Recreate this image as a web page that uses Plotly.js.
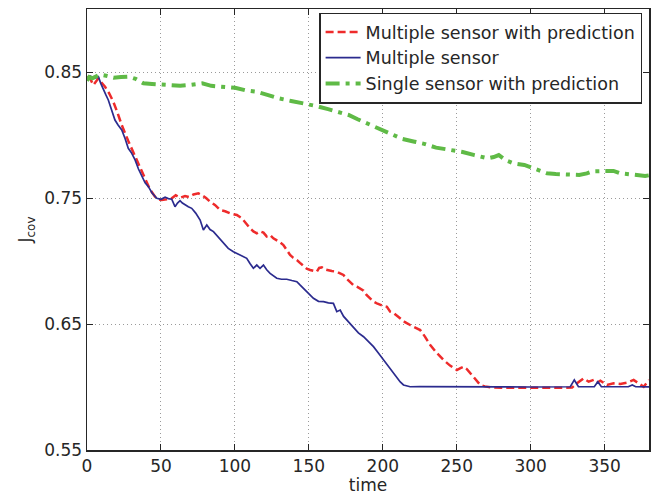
<!DOCTYPE html>
<html>
<head>
<meta charset="utf-8">
<script src="https://cdn.plot.ly/plotly-3.0.1.min.js"></script>
<style>html,body{margin:0;padding:0;background:#fff;}#chart{width:659px;height:495px;}</style>
</head>
<body>
<div id="chart"></div>
<script>
// Series names
const seriesNames = ["Multiple sensor with prediction", "Multiple sensor", "Single sensor with prediction"];

// Multiple sensor with prediction (red dashed)
const redT = [0, 2, 4.3, 7.7, 9.5, 12.2, 15, 17.8, 20.5, 23.5,
  28, 32.5, 36, 39.2, 42.5, 46, 48, 50.5, 54, 57.3,
  60, 63, 66.3, 69, 72, 75.3, 78, 80.5, 83.2, 86.5,
  90, 93.4, 96.8, 101.3, 104.7, 107.5, 110.3, 112.5, 114.8, 117,
  119.3, 121.5, 123.8, 126, 128.3, 130.5, 132.8, 135, 137.3, 139.5,
  141.9, 144, 146.4, 148.5, 150.9, 153, 155.4, 157, 158.8, 160.5,
  162.2, 165.5, 168.9, 171.2, 173.4, 175.5, 177.9, 180, 182.5, 185,
  187, 189, 191.5, 193.7, 196, 198.5, 200.5, 202.8, 205, 207,
  209.5, 212, 215, 218.5, 222, 225.3, 228.5, 232.1, 236.5, 241.1,
  245.5, 250.1, 252.5, 254.6, 257, 259.1, 262.5, 265.9, 269, 272.7,
  280, 290, 300, 310, 320, 328, 331.3, 335.8, 339.2, 342.6,
  344.8, 347.1, 351.6, 356.1, 360.6, 365.2, 369.6, 373, 376.4, 380];
const redV = [0.846, 0.845, 0.8397, 0.845, 0.842, 0.8383, 0.833, 0.8264, 0.818, 0.8079,
  0.795, 0.7828, 0.773, 0.7656, 0.757, 0.751, 0.749, 0.7484, 0.7490, 0.7498,
  0.7522, 0.7502, 0.7516, 0.7508, 0.7528, 0.7537, 0.752, 0.750, 0.7471, 0.7445,
  0.7405, 0.7395, 0.7378, 0.7365, 0.7339, 0.7295, 0.7259, 0.7235, 0.722, 0.7235,
  0.7225, 0.7195, 0.7206, 0.718, 0.7167, 0.7148, 0.7127, 0.709, 0.7048, 0.7025,
  0.7008, 0.6985, 0.696, 0.6940, 0.6929, 0.692, 0.6915, 0.6945, 0.695, 0.6935,
  0.6929, 0.6920, 0.6915, 0.6902, 0.6889, 0.686, 0.6836, 0.681, 0.6796, 0.678,
  0.6765, 0.673, 0.6704, 0.6677, 0.6664, 0.665, 0.6643, 0.6637, 0.6598, 0.659,
  0.6565, 0.654, 0.6515, 0.6492, 0.647, 0.6452, 0.640, 0.6333, 0.627, 0.6214,
  0.617, 0.6135, 0.6150, 0.6161, 0.614, 0.6109, 0.606, 0.6016, 0.6005, 0.5998,
  0.5994, 0.5996, 0.5993, 0.5995, 0.5994, 0.5996, 0.6029, 0.6069, 0.6042, 0.6056,
  0.6034, 0.605, 0.6016, 0.6029, 0.6024, 0.6034, 0.6056, 0.6029, 0.6002, 0.6056];

// Multiple sensor (blue solid)
const blueT = [0, 2, 5.4, 7.7, 9.3, 11, 12.7, 14.4, 16.5, 18.9,
  21, 23.5, 25.8, 27.9, 30, 32.5, 34.8, 37, 39.3, 41.5,
  44, 47.2, 50, 52.8, 55, 57.3, 59.5, 61.2, 62.9, 64.5,
  66.3, 68.5, 70.8, 73.5, 76.5, 78.7, 81, 83.2, 85.5, 88.8,
  92.2, 95.5, 99, 101.2, 103.5, 105.7, 108, 110.2, 112.5, 114.8,
  117, 119.3, 121.5, 123.8, 126, 128.3, 131.5, 135.1, 138.5, 141.9,
  144, 146.3, 149.5, 153.1, 156.5, 159.9, 163.2, 166.6, 168.9, 171.2,
  173.5, 175.7, 177.9, 180.2, 183.5, 187, 190.3, 193.7, 197, 200.5,
  202.8, 205, 207.2, 209.5, 211.8, 214, 218.5, 225, 240, 260,
  280, 300, 320, 326.8, 329.5, 332.3, 343, 345.4, 347.8, 366,
  368.7, 371, 380];
const blueV = [0.845, 0.8468, 0.845, 0.8463, 0.841, 0.8357, 0.832, 0.8278, 0.820, 0.8119,
  0.808, 0.804, 0.797, 0.7894, 0.786, 0.7802, 0.773, 0.7669, 0.762, 0.759,
  0.754, 0.7498, 0.749, 0.7506, 0.7495, 0.749, 0.7431, 0.746, 0.7479, 0.746,
  0.7444, 0.743, 0.7418, 0.738, 0.7325, 0.7246, 0.7286, 0.725, 0.7233, 0.719,
  0.714, 0.710, 0.7074, 0.706, 0.7048, 0.7035, 0.7021, 0.698, 0.6942, 0.6968,
  0.6942, 0.6968, 0.693, 0.6902, 0.688, 0.6863, 0.6855, 0.6855, 0.6845, 0.6836,
  0.681, 0.6783, 0.674, 0.6704, 0.668, 0.6677, 0.6668, 0.6664, 0.6598, 0.6611,
  0.656, 0.653, 0.6506, 0.6466, 0.643, 0.6399, 0.636, 0.632, 0.627, 0.6214,
  0.618, 0.6148, 0.611, 0.6069, 0.604, 0.6016, 0.6002, 0.6003, 0.6001, 0.6001,
  0.6001, 0.6000, 0.6001, 0.6002, 0.6056, 0.6002, 0.6002, 0.6042, 0.6002, 0.6002,
  0.6016, 0.6002, 0.6001];

// Single sensor with prediction (green dash-dot)
const greenT = [0, 1.5, 3.6, 8.5, 13, 18, 23, 28.3, 33, 38.2,
  44, 50.6, 57, 63, 70, 77.9, 84, 92, 100.1, 107,
  114, 122.5, 130, 138, 147.2, 155, 163, 170, 176.9, 183,
  190, 197, 205, 213, 221.5, 228, 236, 246, 254, 262,
  271, 275, 278.4, 283, 288.5, 295.7, 303, 311, 317, 325,
  332.8, 338, 342, 350.2, 356, 360.6, 366, 372, 377.4, 380];
const greenV = [0.843, 0.846, 0.845, 0.848, 0.847, 0.8455, 0.846, 0.8463, 0.8445, 0.841,
  0.8405, 0.8402, 0.8395, 0.8391, 0.8398, 0.841, 0.839, 0.8385, 0.8375, 0.8355,
  0.8345, 0.8317, 0.829, 0.827, 0.8252, 0.823, 0.8205, 0.818, 0.8159, 0.8125,
  0.809, 0.8053, 0.8015, 0.797, 0.7947, 0.793, 0.790, 0.788, 0.7865, 0.784,
  0.7815, 0.7825, 0.7841, 0.780, 0.7775, 0.7762, 0.773, 0.7696, 0.769, 0.7685,
  0.7683, 0.7695, 0.7712, 0.7714, 0.7715, 0.7696, 0.769, 0.768, 0.7675, 0.768];

// Tick labels
const xTickVals = [0, 50, 100, 150, 200, 250, 300, 350];
const xTickText = ["0", "50", "100", "150", "200", "250", "300", "350"];
const yTickVals = [0.55, 0.65, 0.75, 0.85];
const yTickText = ["0.55", "0.65", "0.75", "0.85"];

const axisColor = '#262626';
const traces = [
  {x: redT, y: redV, name: seriesNames[0], type: 'scatter', mode: 'lines',
   line: {color: '#ee2b2b', width: 2.5, dash: '8px,4px'}},
  {x: blueT, y: blueV, name: seriesNames[1], type: 'scatter', mode: 'lines',
   line: {color: '#2b2b8e', width: 1.7}},
  {x: greenT, y: greenV, name: seriesNames[2], type: 'scatter', mode: 'lines',
   line: {color: '#5fba46', width: 4, dash: '14px,6px,4px,6px'}}
];

const axisCommon = {
  ticks: 'inside', ticklen: 6, tickwidth: 1, tickcolor: axisColor,
  showline: true, linecolor: axisColor, linewidth: 1.5, mirror: 'ticks',
  showgrid: true, gridcolor: '#9a9a9a', gridwidth: 1, griddash: '1px,3px',
  zeroline: false, tickfont: {family: 'DejaVu Sans', size: 17, color: axisColor}
};

const layout = {
  width: 659, height: 495,
  margin: {l: 87, r: 10, t: 9, b: 45, pad: 0},
  paper_bgcolor: '#ffffff', plot_bgcolor: '#ffffff',
  font: {family: 'DejaVu Sans', size: 17, color: axisColor},
  showlegend: true,
  xaxis: Object.assign({}, axisCommon, {
    range: [0, 380], tickmode: 'array', tickvals: xTickVals, ticktext: xTickText,
    title: {text: 'time', standoff: 2, font: {family: 'DejaVu Sans', size: 17, color: axisColor}}
  }),
  yaxis: Object.assign({}, axisCommon, {
    range: [0.55, 0.90], tickmode: 'array', tickvals: yTickVals, ticktext: yTickText,
    title: {text: 'J<sub>cov</sub>', standoff: 8, font: {family: 'DejaVu Sans', size: 17, color: axisColor}}
  }),
  legend: {
    x: 0.413, y: 0.992, xanchor: 'left', yanchor: 'top',
    bgcolor: '#ffffff', bordercolor: axisColor, borderwidth: 1.5,
    font: {family: 'DejaVu Sans', size: 17.5, color: axisColor},
    itemwidth: 35, tracegroupgap: 0
  }
};

Plotly.newPlot('chart', traces, layout, {displayModeBar: false, staticPlot: true});
</script>
</body>
</html>
